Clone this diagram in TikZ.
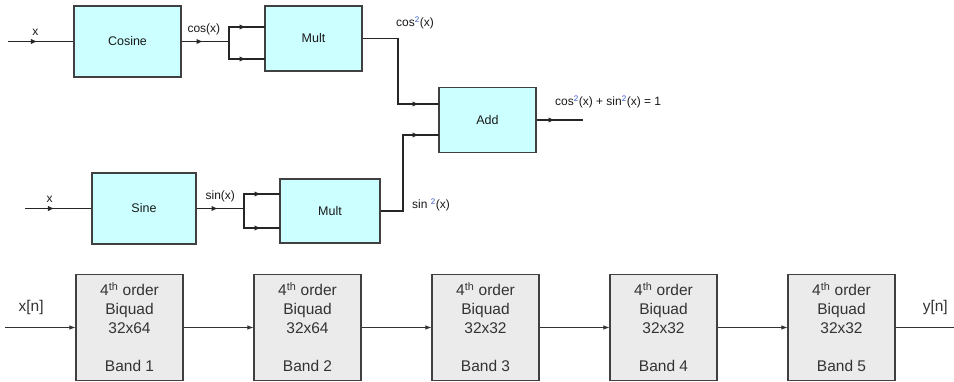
\documentclass[tikz,border=0pt]{standalone}
\usepackage{fontspec}
\setmainfont{Liberation Sans}
\usepackage{tikz}
\usetikzlibrary{arrows.meta}
\usetikzlibrary{decorations.markings}
\definecolor{boxcyan}{HTML}{CCFFFF}
\definecolor{boxgray}{HTML}{EBEBEB}
\definecolor{framegray}{HTML}{404040}
\definecolor{twoblue}{HTML}{3355CC}
\tikzset{block/.style={draw=framegray, line width=1.3pt, fill=boxcyan, inner sep=0, text=black!90, font=\fontsize{12.5}{14}\selectfont}}
\tikzset{band/.style={draw=framegray, line width=1.1pt, fill=boxgray, minimum width=107pt, minimum height=106pt, inner sep=0, align=center, text=black!80, font=\fontsize{15.5}{19}\selectfont}}
\tikzset{sig/.style={inner sep=1pt, text=black!90, font=\fontsize{12}{13}\selectfont}}
\tikzset{arrowat/.style={decoration={markings, mark=at position #1 with {\arrow{Latex[length=6.5pt,width=5.5pt]}}}, postaction=decorate}}
\tikzset{wire/.style={draw, line width=1.2pt, black!85}}
\tikzset{link/.style={draw, line width=0.9pt, black!80, -{Latex[length=6pt,width=4.5pt]}}}
\newcommand{\sq}{\textsuperscript{\color{twoblue}2}}

\begin{document}
\begin{tikzpicture}[x=1pt, y=-1pt]
  \useasboundingbox (0,0) rectangle (954,382);

  \node[block, minimum width=107pt, minimum height=71pt] at (127.5, 41.5) (cosine) {Cosine};
  \node[block, minimum width=97pt, minimum height=65pt] at (313.5, 38.5) (multcos) {Mult};
  \node[block, minimum width=97pt, minimum height=65pt] at (487.5, 120) (add) {Add};
  \node[block, minimum width=104pt, minimum height=71pt] at (144, 208.5) (sine) {Sine};
  \node[block, minimum width=100pt, minimum height=64pt] at (330, 211) (multsin) {Mult};

  \coordinate (xcos) at (8, 41.5);
  \coordinate (forkcos) at (229, 41.5);
  \coordinate (cosa) at (265, 27);
  \coordinate (cosb) at (265, 59);
  \coordinate (xsin) at (25, 208.5);
  \coordinate (forksin) at (244, 208.5);
  \coordinate (sina) at (280, 194);
  \coordinate (sinb) at (280, 228);
  \coordinate (bendcos) at (398, 104);
  \coordinate (bendsin) at (403, 135);
  \coordinate (adda) at (439, 104);
  \coordinate (addb) at (439, 135);
  \coordinate (sum) at (583, 120);

  % cosine branch
  \draw (xcos) edge[wire, arrowat=-36pt] node[sig, above=4pt, pos=0.42] {x} (cosine.west);
  \draw (cosine.east) edge[wire, arrowat=-26pt] node[sig, above=5pt, pos=0.47] {cos(x)} (forkcos);
  \draw[wire, arrowat=-19pt] (forkcos) |- (cosa);
  \draw[wire, arrowat=-19pt] (forkcos) |- (cosb);
  \draw[wire, arrowat=-20pt] (multcos.east) -| (bendcos) -- (adda);
  \node[sig] at (415, 23) {cos\sq(x)};

  % sine branch
  \draw (xsin) edge[wire, arrowat=-37pt] node[sig, above=4pt, pos=0.37] {x} (sine.west);
  \draw (sine.east) edge[wire, arrowat=-26pt] node[sig, above=5pt, pos=0.5] {sin(x)} (forksin);
  \draw[wire, arrowat=-19pt] (forksin) |- (sina);
  \draw[wire, arrowat=-19pt] (forksin) |- (sinb);
  \draw[wire, arrowat=-20pt] (multsin.east) -| (bendsin) -- (addb);
  \node[sig] at (431, 205) {sin \sq(x)};

  \draw (add.east) edge[wire, arrowat=-28pt] (sum);
  \node[sig, anchor=west] at (554, 102) {cos\sq(x) + sin\sq(x) = 1};

  % filter bank
  \node[band] at (129.5, 327.5) (band1) {4\textsuperscript{th} order\\Biquad\\32x64\\[19pt]Band 1};
  \node[band] at (307.5, 327.5) (band2) {4\textsuperscript{th} order\\Biquad\\32x64\\[19pt]Band 2};
  \node[band] at (485.5, 327.5) (band3) {4\textsuperscript{th} order\\Biquad\\32x32\\[19pt]Band 3};
  \node[band] at (663.5, 327.5) (band4) {4\textsuperscript{th} order\\Biquad\\32x32\\[19pt]Band 4};
  \node[band] at (841.5, 327.5) (band5) {4\textsuperscript{th} order\\Biquad\\32x32\\[19pt]Band 5};

  \coordinate (xn) at (5, 327.5);
  \coordinate (yn) at (954, 327.5);

  \draw (xn) edge[link] node[above=9pt, pos=0.37, text=black!80, font=\fontsize{15.5}{19}\selectfont] {x[n]} (band1);
  \draw (band1) edge[link] (band2);
  \draw (band2) edge[link] (band3);
  \draw (band3) edge[link] (band4);
  \draw (band4) edge[link] (band5);
  \draw (band5) edge[link, -] node[above=9pt, pos=0.68, text=black!80, font=\fontsize{15.5}{19}\selectfont] {y[n]} (yn);
\end{tikzpicture}
\end{document}
